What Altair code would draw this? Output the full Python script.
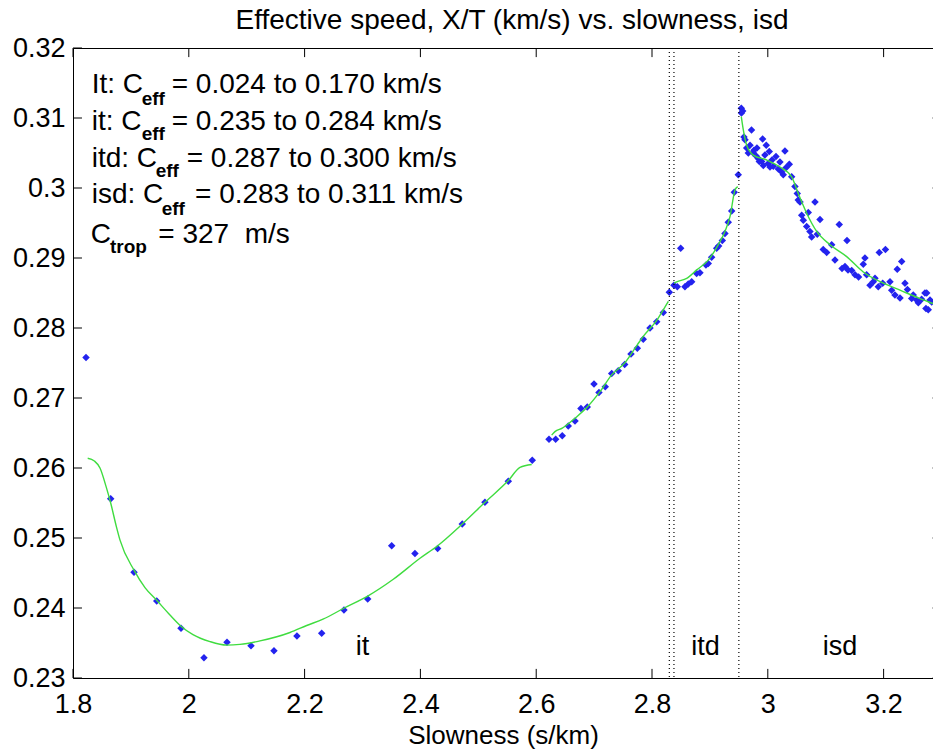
import altair as alt
import pandas as pd

# ---- data ----
pts_x = [1.8225, 1.8651, 1.9054, 1.9446, 1.9865, 2.0262, 2.0660, 2.1074, 2.1471, 2.1868,
         2.2295, 2.2680, 2.3090, 2.3504, 2.3906, 2.4298, 2.4723, 2.5115, 2.5518, 2.5932,
         2.6221, 2.6336, 2.6450, 2.6554, 2.6670, 2.6773, 2.6882, 2.6998, 2.7084, 2.7193,
         2.7304, 2.7417, 2.7528, 2.7637, 2.7746, 2.7849, 2.7965, 2.8081, 2.8195, 2.8299,
         2.8379, 2.8437, 2.8495, 2.8569, 2.8626, 2.8685, 2.8771, 2.8828, 2.8932, 2.8972,
         2.9030, 2.9117, 2.9151, 2.9214, 2.9260, 2.9317, 2.9376, 2.9421, 2.9490,
         2.9542, 2.9566, 2.9545, 2.9588, 2.9718, 2.9635, 2.9663, 2.9749, 2.9761, 2.9795,
         2.9835, 2.9911, 2.9973, 3.0025, 3.0141, 3.0296, 2.9853, 2.9894, 2.9922, 3.0008,
         3.0038, 3.0095, 3.0181, 3.0240, 3.0267, 3.0371, 3.0412, 3.0469, 3.0509, 3.0526,
         3.0556, 3.0585, 3.0699, 3.0815, 3.0613, 3.0671, 3.0728, 3.0757, 3.0854, 3.0901,
         3.0958, 3.1017, 3.1103, 3.1160, 3.1234, 3.1368, 3.1333, 3.1449, 3.1506, 3.1567,
         3.1649, 3.1678, 3.1707, 3.1765, 3.1822, 3.1851, 3.1908, 3.1925, 3.2032, 3.1984,
         3.2110, 3.2139, 3.2196, 3.2236, 3.2312, 3.2283, 3.2369, 3.2412, 3.2485, 3.2512,
         3.2571, 3.2599, 3.2657, 3.2714, 3.2744, 3.2771, 3.2731, 3.2830, 3.2801,
         2.9606, 2.9693, 2.9812, 2.9950, 3.0072, 3.0210, 3.0314, 3.1282, 3.1385]
pts_y = [0.2758, 0.2556, 0.2451, 0.2410, 0.2371, 0.2329, 0.2351, 0.2346, 0.2339, 0.2360,
         0.2364, 0.2397, 0.2413, 0.2489, 0.2478, 0.2485, 0.2520, 0.2551, 0.2581, 0.2611,
         0.2641, 0.2641, 0.2646, 0.2660, 0.2667, 0.2685, 0.2687, 0.2720, 0.2708, 0.2716,
         0.2735, 0.2739, 0.2748, 0.2763, 0.2771, 0.2784, 0.2800, 0.2809, 0.2822, 0.2851,
         0.2861, 0.2859, 0.2914, 0.2859, 0.2863, 0.2866, 0.2878, 0.2879, 0.2890, 0.2892,
         0.2901, 0.2914, 0.2917, 0.2925, 0.2935, 0.2951, 0.2967, 0.2994, 0.3019,
         0.3114, 0.3110, 0.3107, 0.3073, 0.3083, 0.3057, 0.3050, 0.3050, 0.3054, 0.3046,
         0.3042, 0.3070, 0.3061, 0.3052, 0.3045, 0.3053, 0.3038, 0.3038, 0.3032, 0.3035,
         0.3030, 0.3031, 0.3027, 0.3023, 0.3019, 0.3034, 0.3016, 0.3002, 0.2992, 0.2983,
         0.2980, 0.2961, 0.2965, 0.2980, 0.2954, 0.2945, 0.2938, 0.2930, 0.2934, 0.2955,
         0.2912, 0.2908, 0.2919, 0.2897, 0.2948, 0.2925, 0.2888, 0.2882, 0.2876, 0.2873,
         0.2891, 0.2900, 0.2876, 0.2861, 0.2866, 0.2871, 0.2859, 0.2908, 0.2912, 0.2864,
         0.2866, 0.2854, 0.2847, 0.2884, 0.2895, 0.2843, 0.2864, 0.2855, 0.2842, 0.2847,
         0.2840, 0.2836, 0.2841, 0.2850, 0.2850, 0.2826, 0.2828, 0.2837, 0.2840,
         0.3069, 0.3061, 0.3057, 0.3047, 0.3040, 0.3037, 0.3029, 0.2885, 0.2883]

line_x = [1.8254, 1.8369, 1.8466, 1.8573, 1.8651, 1.8750, 1.8812, 1.9054, 1.9243, 1.9446,
          1.9675, 1.9865, 2.0072, 2.0366, 2.0654, 2.0884, 2.1230, 2.1748, 2.2036, 2.2318,
          2.2685, 2.3090, 2.3532, 2.3993, 2.4298, 2.4723, 2.5115, 2.5518, 2.5720, 2.5922,
          2.6267, 2.6324, 2.6450, 2.6670, 2.6882, 2.7101, 2.7304, 2.7528, 2.7746, 2.7849,
          2.8081, 2.8195, 2.8282,
          2.8379, 2.8426, 2.8599, 2.8771, 2.8972, 2.9145, 2.9260, 2.9347, 2.9433, 2.9480,
          2.9542, 2.9577, 2.9635, 2.9749, 2.9981, 3.0210, 3.0412, 3.0526, 3.0671, 3.0844,
          3.1074, 3.1362, 3.1649, 3.1995, 3.2283, 3.2629, 3.2853]
line_y = [0.2614, 0.2610, 0.2600, 0.2573, 0.2550, 0.2516, 0.2497, 0.2454, 0.2429, 0.2411,
          0.2390, 0.2374, 0.2362, 0.2352, 0.2347, 0.2348, 0.2353, 0.2365, 0.2375, 0.2384,
          0.2400, 0.2417, 0.2441, 0.2471, 0.2489, 0.2520, 0.2551, 0.2582, 0.2601, 0.2605,
          0.2647, 0.2652, 0.2657, 0.2671, 0.2687, 0.2709, 0.2733, 0.2750, 0.2776, 0.2788,
          0.2811, 0.2826, 0.2838,
          0.2864, 0.2866, 0.2871, 0.2883, 0.2897, 0.2919, 0.2938, 0.2959, 0.2997, 0.3002,
          0.3102, 0.3083, 0.3061, 0.3047, 0.3040, 0.3030, 0.3016, 0.2992, 0.2964, 0.2938,
          0.2919, 0.2902, 0.2880, 0.2864, 0.2854, 0.2842, 0.2835]
line_seg = [1] * 30 + [2] * 13 + [3] * 10 + [4] * 17

boundaries = [2.8299, 2.8379, 2.9500]

x_ticks = [1.8, 2.0, 2.2, 2.4, 2.6, 2.8, 3.0, 3.2]
y_ticks = [0.23, 0.24, 0.25, 0.26, 0.27, 0.28, 0.29, 0.30, 0.31, 0.32]

region_text = ["it", "itd", "isd"]
region_x = [2.300, 2.8925, 3.1247]
region_y = [0.2333, 0.2333, 0.2333]

ann_prefix = ["It: C", "it: C", "itd: C", "isd: C", "C"]
ann_sub = ["eff", "eff", "eff", "eff", "trop"]
ann_suffix = ["= 0.024 to 0.170 km/s", "= 0.235 to 0.284 km/s", "= 0.287 to 0.300 km/s",
              "= 0.283 to 0.311 km/s", "= 327\u00a0\u00a0m/s"]
ann_prefix_x = [1.8323, 1.8323, 1.8323, 1.8323, 1.8306]
ann_sub_x = [1.9186, 1.9186, 1.9428, 1.9532, 1.8639]
ann_suffix_x = [1.9705, 1.9705, 1.9964, 2.0107, 1.9473]
ann_main_y = [0.31353, 0.30829, 0.30304, 0.29786, 0.29214]
ann_sub_y = [0.31186, 0.30686, 0.30161, 0.29614, 0.29071]

XMIN, XMAX = 1.8, 3.2853
YMIN, YMAX = 0.23, 0.32
TX = 0.0155   # inward tick length in x units
TY = 0.0013   # inward tick length in y units

FONT = "Liberation Sans"
BLUE = "#2323ee"
GREEN = "#3fdc3f"

# ---- tables ----
pts = pd.DataFrame({"x": pts_x, "y": pts_y})
lines = pd.DataFrame({"x": line_x, "y": line_y, "seg": line_seg})
bnd = pd.DataFrame({"x": boundaries})
regions = pd.DataFrame({"x": region_x, "y": region_y, "t": region_text})
main_txt = pd.DataFrame({"x": ann_prefix_x + ann_suffix_x,
                         "y": ann_main_y + ann_main_y,
                         "t": ann_prefix + ann_suffix})
sub_txt = pd.DataFrame({"x": ann_sub_x, "y": ann_sub_y, "t": ann_sub})

bottom_ticks = pd.DataFrame({"x": x_ticks, "y": [YMIN] * len(x_ticks), "y2": [YMIN + TY] * len(x_ticks)})
top_ticks = pd.DataFrame({"x": x_ticks, "y": [YMAX] * len(x_ticks), "y2": [YMAX - TY] * len(x_ticks)})
left_ticks = pd.DataFrame({"y": y_ticks, "x": [XMIN] * len(y_ticks), "x2": [XMIN + TX] * len(y_ticks)})
right_ticks = pd.DataFrame({"y": y_ticks, "x": [3.3 - TX] * len(y_ticks), "x2": [3.3] * len(y_ticks)})

xscale = alt.Scale(domain=[XMIN, XMAX], nice=False, zero=False)
yscale = alt.Scale(domain=[YMIN, YMAX], nice=False, zero=False)

xaxis = alt.Axis(values=x_ticks, format="~g", title="Slowness (s/km)", grid=False,
                 ticks=False, domain=False, labelFontSize=27, labelFont=FONT,
                 labelColor="black", labelPadding=13, titleFontSize=26, titleFont=FONT,
                 titleFontWeight="normal", titleColor="black", titlePadding=5,
                 labelFlush=False)
yaxis = alt.Axis(values=y_ticks, format="~g", title=None, grid=False, ticks=False,
                 domain=False, labelFontSize=27, labelFont=FONT, labelColor="black",
                 labelPadding=8, labelFlush=False)

points = alt.Chart(pts).mark_point(shape="diamond", filled=True, size=56, color=BLUE,
                                   opacity=1).encode(
    x=alt.X("x:Q", scale=xscale, axis=xaxis),
    y=alt.Y("y:Q", scale=yscale, axis=yaxis),
)

curve = alt.Chart(lines).mark_line(color=GREEN, strokeWidth=1.4,
                                   interpolate="monotone").encode(
    x="x:Q", y="y:Q", detail="seg:N")

vlines = alt.Chart(bnd).mark_rule(color="black", strokeDash=[1, 3], strokeWidth=1.2).encode(
    x="x:Q")

tick_style = dict(color="black", strokeWidth=1)
t_bottom = alt.Chart(bottom_ticks).mark_rule(**tick_style).encode(x="x:Q", y="y:Q", y2="y2:Q")
t_top = alt.Chart(top_ticks).mark_rule(**tick_style).encode(x="x:Q", y="y:Q", y2="y2:Q")
t_left = alt.Chart(left_ticks).mark_rule(**tick_style).encode(y="y:Q", x="x:Q", x2="x2:Q")
t_right = alt.Chart(right_ticks).mark_rule(clip=True, **tick_style).encode(y="y:Q", x="x:Q", x2="x2:Q")

reg = alt.Chart(regions).mark_text(font=FONT, fontSize=27, align="center",
                                   baseline="alphabetic", color="black").encode(
    x="x:Q", y="y:Q", text="t:N")

ann_main = alt.Chart(main_txt).mark_text(font=FONT, fontSize=28, align="left",
                                         baseline="alphabetic", color="black").encode(
    x="x:Q", y="y:Q", text="t:N")
ann_sub_layer = alt.Chart(sub_txt).mark_text(font=FONT, fontSize=19, fontWeight="bold",
                                             align="left", baseline="alphabetic",
                                             color="black").encode(
    x="x:Q", y="y:Q", text="t:N")

chart = alt.layer(points, curve, vlines, t_bottom, t_top, t_left, t_right, reg,
                  ann_main, ann_sub_layer).properties(
    width=860,
    height=630,
    title=alt.TitleParams(text="Effective speed, X/T (km/s) vs. slowness, isd",
                          font=FONT, fontSize=28, fontWeight="normal", color="black",
                          anchor="middle", dx=9, offset=-1),
    autosize=alt.AutoSizeParams(type="none"),
    padding={"left": 73, "top": 48, "right": 0, "bottom": 75},
    background="white",
).configure_view(stroke="black", strokeWidth=1)

chart.save("out.html", embed_options={"renderer": "svg", "actions": False})
